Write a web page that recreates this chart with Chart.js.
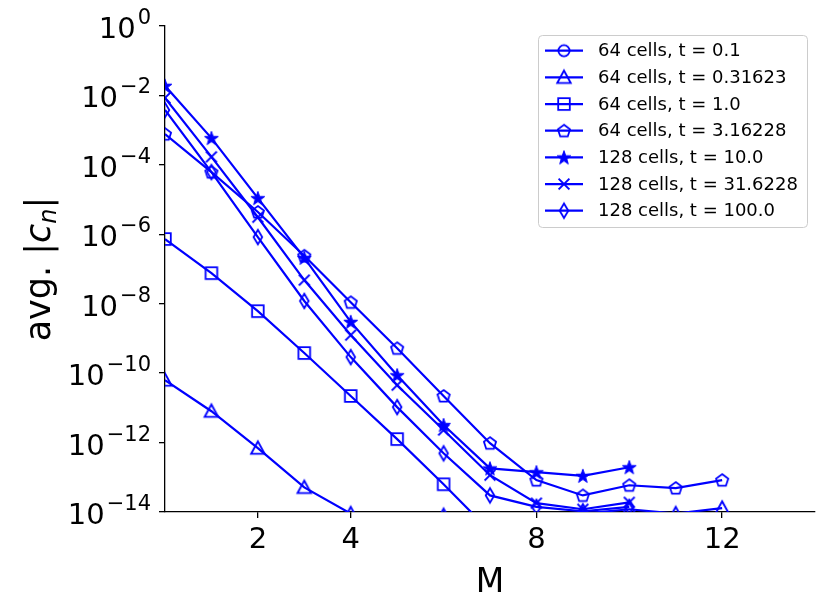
<!DOCTYPE html>
<html>
<head>
<meta charset="utf-8">
<script src="https://cdn.jsdelivr.net/npm/chart.js@4.4.1/dist/chart.umd.min.js"></script>
<style>
    html, body { margin: 0; padding: 0; background: #fff; }
    #wrap { width: 830px; height: 612px; }
</style>
</head>
<body>
<div id="wrap"><canvas id="chart" width="830" height="612"></canvas></div>
<script>
// x positions (M) for the 64 cell and 128 cell runs
const mSteps64 = [0, 1, 2, 3, 4, 5, 6, 7, 8, 9, 10, 11, 12];
const mSteps128 = [0, 1, 2, 3, 4, 5, 6, 7, 8, 9, 10];

// avg |c_n|; anything under 1e-14 sits below the axes
const cells64_t0_1 = [5e-15, 3e-15, 2e-15, 2e-15, 2e-15, 2e-15, 2e-15, 2e-15, 2e-15, 2e-15, 2e-15, 2e-15, 2e-15];
const cells64_t0_31623 = [6.3e-11, 8e-12, 6.9e-13, 5.1e-14, 9e-15, 3e-15, 8e-15, 3e-15, 5e-15, 9e-15, 1.2e-14, 9e-15, 1.3e-14];
const cells64_t1_0 = [7.3e-7, 7.6e-8, 6.1e-9, 3.8e-10, 2.2e-11, 1.26e-12, 6.3e-14, 2.8e-15, 2e-15, 3e-15, 2e-15, 2.5e-15, 2e-15];
const cells64_t3_16228 = [7.7e-4, 6.2e-5, 4.4e-6, 2.4e-7, 1.1e-8, 5.2e-10, 2.2e-11, 9.6e-13, 8.3e-14, 3.0e-14, 5.9e-14, 4.9e-14, 8.3e-14];
const cells128_t10_0 = [1.9e-2, 5.9e-4, 1.1e-5, 2.1e-7, 3.0e-9, 8.7e-11, 3.2e-12, 1.8e-13, 1.4e-13, 1.1e-13, 1.95e-13];
const cells128_t31_6228 = [8.5e-3, 1.7e-4, 3.1e-6, 4.8e-8, 1.25e-9, 4.5e-11, 2.3e-12, 1.15e-13, 1.8e-14, 1.2e-14, 1.9e-14];
const cells128_t100_0 = [3.8e-3, 6.2e-5, 8.3e-7, 1.2e-8, 2.9e-10, 1.05e-11, 4.9e-13, 3.0e-14, 1.4e-14, 1.05e-14, 1.4e-14];

const seriesLabels = [
    '64 cells, t = 0.1',
    '64 cells, t = 0.31623',
    '64 cells, t = 1.0',
    '64 cells, t = 3.16228',
    '128 cells, t = 10.0',
    '128 cells, t = 31.6228',
    '128 cells, t = 100.0'
];
const markerKinds = ['circle', 'triangle', 'square', 'pentagon', 'star', 'cross', 'thinDiamond'];

const xTickValues = [2, 4, 8, 12];
const yTickExponents = [0, -2, -4, -6, -8, -10, -12, -14];

const lineBlue = '#0000ff';
const fontName = '"DejaVu Sans"';

Chart.defaults.font.family = 'DejaVu Sans';

// Draw matplotlib-like markers into small canvases, used as point styles
function makeMarker(kind) {
    const c = document.createElement('canvas');
    c.width = 22;
    c.height = 22;
    const g = c.getContext('2d');
    g.translate(11, 11);
    g.strokeStyle = lineBlue;
    g.fillStyle = lineBlue;
    g.lineWidth = 1.8;
    g.beginPath();
    if (kind === 'circle') {
        g.arc(0, 0, 5.6, 0, Math.PI * 2);
    } else if (kind === 'triangle') {
        g.moveTo(0, -6.8);
        g.lineTo(6.8, 5.7);
        g.lineTo(-6.8, 5.7);
        g.closePath();
    } else if (kind === 'square') {
        g.rect(-5.8, -5.8, 11.6, 11.6);
    } else if (kind === 'pentagon') {
        for (let k = 0; k < 5; k++) {
            const a = -Math.PI / 2 + k * 2 * Math.PI / 5;
            const px = 6.4 * Math.cos(a), py = 6.4 * Math.sin(a) + 0.5;
            if (k === 0) g.moveTo(px, py); else g.lineTo(px, py);
        }
        g.closePath();
    } else if (kind === 'star') {
        for (let k = 0; k < 10; k++) {
            const a = -Math.PI / 2 + k * Math.PI / 5;
            const r = k % 2 === 0 ? 7.3 : 2.9;
            const px = r * Math.cos(a), py = r * Math.sin(a) + 0.6;
            if (k === 0) g.moveTo(px, py); else g.lineTo(px, py);
        }
        g.closePath();
        g.fill();
        g.lineWidth = 1;
    } else if (kind === 'cross') {
        g.lineWidth = 2;
        g.moveTo(-5.4, -5.4); g.lineTo(5.4, 5.4);
        g.moveTo(5.4, -5.4); g.lineTo(-5.4, 5.4);
    } else if (kind === 'thinDiamond') {
        g.moveTo(0, -7.2);
        g.lineTo(4.3, 0);
        g.lineTo(0, 7.2);
        g.lineTo(-4.3, 0);
        g.closePath();
    }
    g.stroke();
    return c;
}

const markerImages = markerKinds.map(makeMarker);

function buildPoints(ms, vals) {
    return ms.map((m, i) => ({ x: m, y: vals[i] }));
}

const seriesData = [
    buildPoints(mSteps64, cells64_t0_1),
    buildPoints(mSteps64, cells64_t0_31623),
    buildPoints(mSteps64, cells64_t1_0),
    buildPoints(mSteps64, cells64_t3_16228),
    buildPoints(mSteps128, cells128_t10_0),
    buildPoints(mSteps128, cells128_t31_6228),
    buildPoints(mSteps128, cells128_t100_0)
];

const datasets = seriesData.map((pts, i) => ({
    label: seriesLabels[i],
    data: pts,
    borderColor: lineBlue,
    borderWidth: 2.2,
    pointStyle: markerImages[i],
    pointRadius: 6,
    tension: 0,
    fill: false,
    order: -i
}));

// Tick labels with superscripts, axis titles and the legend box
const textPlugin = {
    id: 'textPlugin',
    afterDraw(chart) {
        const ctx = chart.ctx;
        const yScale = chart.scales.y;
        ctx.save();
        ctx.fillStyle = '#000';
        ctx.textBaseline = 'alphabetic';
        ctx.textAlign = 'left';

        // y tick labels 10^n
        yTickExponents.forEach(exp => {
            const py = yScale.getPixelForValue(Math.pow(10, exp));
            const expText = exp < 0 ? '\u2212' + (-exp) : String(exp);
            ctx.font = '21px ' + fontName;
            const wExp = ctx.measureText(expText).width;
            ctx.font = '29px ' + fontName;
            const wBase = ctx.measureText('10').width;
            const right = 151;
            ctx.fillText('10', right - wExp - wBase - 2, py + 12);
            ctx.font = '21px ' + fontName;
            ctx.fillText(expText, right - wExp, py - 2);
        });

        // x title
        ctx.font = '33px ' + fontName;
        ctx.textAlign = 'center';
        ctx.fillText('M', (chart.chartArea.left + chart.chartArea.right) / 2, 592);

        // y title: avg. |c_n|
        const parts = [
            { t: 'avg. ', f: '35px ' + fontName, dy: 0 },
            { t: '|', f: '35px ' + fontName, dy: 0 },
            { t: 'c', f: 'italic 35px ' + fontName, dy: 0 },
            { t: 'n', f: 'italic 24px ' + fontName, dy: 6 },
            { t: '|', f: '35px ' + fontName, dy: 0 }
        ];
        let total = 0;
        parts.forEach(p => { ctx.font = p.f; p.w = ctx.measureText(p.t).width; total += p.w; });
        ctx.translate(50, (chart.chartArea.top + chart.chartArea.bottom) / 2);
        ctx.rotate(-Math.PI / 2);
        ctx.textAlign = 'left';
        let cx = -total / 2;
        parts.forEach(p => {
            ctx.font = p.f;
            ctx.fillText(p.t, cx, p.dy);
            cx += p.w;
        });
        ctx.restore();

        // legend
        ctx.save();
        const bx = 538.5, by = 35.5, bw = 269, bh = 192;
        ctx.beginPath();
        ctx.roundRect(bx, by, bw, bh, 4);
        ctx.fillStyle = 'rgba(255,255,255,0.8)';
        ctx.fill();
        ctx.strokeStyle = '#cccccc';
        ctx.lineWidth = 1;
        ctx.stroke();
        ctx.font = '18px ' + fontName;
        ctx.textBaseline = 'middle';
        ctx.textAlign = 'left';
        seriesLabels.forEach((label, i) => {
            const ry = 50.7 + i * 26.67;
            ctx.beginPath();
            ctx.moveTo(545, ry);
            ctx.lineTo(583, ry);
            ctx.strokeStyle = lineBlue;
            ctx.lineWidth = 2.2;
            ctx.stroke();
            const img = markerImages[i];
            ctx.drawImage(img, 564 - img.width / 2, ry - img.height / 2);
            ctx.fillStyle = '#000';
            ctx.fillText(label, 598, ry + 1);
        });
        ctx.restore();
    }
};

new Chart(document.getElementById('chart'), {
    type: 'line',
    data: { datasets: datasets },
    options: {
        responsive: false,
        animation: false,
        devicePixelRatio: 1,
        layout: { padding: { top: 26, right: 15, left: 0, bottom: 0 } },
        plugins: {
            legend: { display: false },
            tooltip: { enabled: false }
        },
        scales: {
            x: {
                type: 'linear',
                min: 0,
                max: 14,
                afterBuildTicks: function(scale) {
                    scale.ticks = xTickValues.map(v => ({ value: v }));
                },
                afterFit: function(scale) {
                    scale.height = 100;
                },
                grid: {
                    drawOnChartArea: false,
                    drawTicks: true,
                    tickLength: 6,
                    lineWidth: 1.3,
                    tickColor: '#000'
                },
                border: { display: true, color: '#000', width: 1.3 },
                ticks: {
                    color: '#000',
                    font: { size: 29 },
                    padding: 5,
                    maxRotation: 0,
                    autoSkip: false
                }
            },
            y: {
                type: 'logarithmic',
                min: 1e-14,
                max: 1,
                afterBuildTicks: function(scale) {
                    scale.ticks = yTickExponents.map(e => ({ value: Math.pow(10, e) }));
                },
                afterFit: function(scale) {
                    scale.width = 165;
                },
                grid: {
                    drawOnChartArea: false,
                    drawTicks: true,
                    tickLength: 6,
                    lineWidth: 1.3,
                    tickColor: '#000'
                },
                border: { display: true, color: '#000', width: 1.3 },
                ticks: { display: false }
            }
        }
    },
    plugins: [textPlugin]
});
</script>
</body>
</html>
